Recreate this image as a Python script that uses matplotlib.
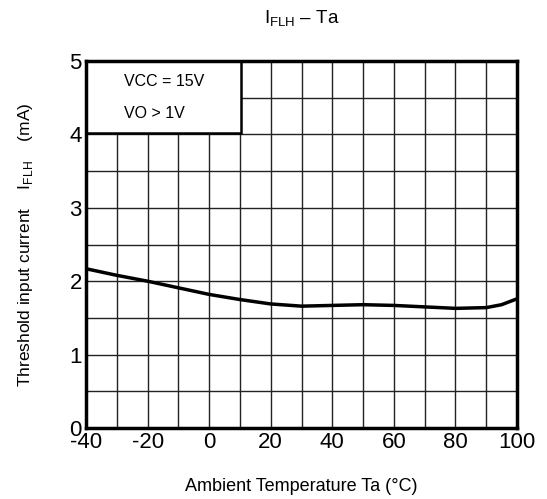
import matplotlib
matplotlib.use("Agg")
import matplotlib.pyplot as plt
from matplotlib.patches import Rectangle

plt.rcParams['font.family'] = ['Liberation Sans', 'DejaVu Sans']
plt.rcParams['mathtext.fontset'] = 'custom'
plt.rcParams['mathtext.rm'] = 'Liberation Sans'
plt.rcParams['axes.unicode_minus'] = False

temps = [-40, -30, -20, -10, 0, 10, 20, 30, 40, 50, 60, 70, 80, 90, 95, 100]
iflh = [2.17, 2.08, 2.00, 1.91, 1.82, 1.75, 1.69, 1.66, 1.67, 1.68, 1.67, 1.65, 1.63, 1.64, 1.68, 1.76]

xticks = [-40, -20, 0, 20, 40, 60, 80, 100]
yticks = [0, 1, 2, 3, 4, 5]

fig = plt.figure(figsize=(5.47, 4.99), dpi=100)
ax = fig.add_axes([86/547, 1-428/499, (517-86)/547, (428-61)/499])

ax.set_xlim(-40, 100)
ax.set_ylim(0, 5)
ax.set_xticks(xticks)
ax.set_yticks(yticks)
ax.set_xticks(range(-40, 101, 10), minor=True)
ax.set_yticks([i*0.5 for i in range(11)], minor=True)
ax.grid(which='both', color='#222222', linewidth=1.0)
ax.tick_params(which='both', length=0, labelsize=16, pad=3)
for s in ax.spines.values():
    s.set_linewidth(2.5)
    s.set_color('black')
    s.set_zorder(5)

ax.plot(temps, iflh, color='black', linewidth=2.5, zorder=3)

ax.add_patch(Rectangle((-40, 4.02), 50.5, 0.98, facecolor='white', edgecolor='black',
                       linewidth=1.8, zorder=4))
ax.text(-27.5, 4.72, 'VCC = 15V', fontsize=11.5, va='center', zorder=6)
ax.text(-27.5, 4.28, 'VO > 1V', fontsize=11.5, va='center', zorder=6)

ax.set_xlabel('Ambient Temperature Ta (°C)', fontsize=13, labelpad=18)
ax.set_ylabel(r'Threshold input current    I$_{\rm FLH}$    (mA)', fontsize=12.5, labelpad=25)
ax.set_title(r'I$_{\rm FLH}$ – Ta', fontsize=13.5, pad=27)

fig.savefig('out.png', dpi=100)
